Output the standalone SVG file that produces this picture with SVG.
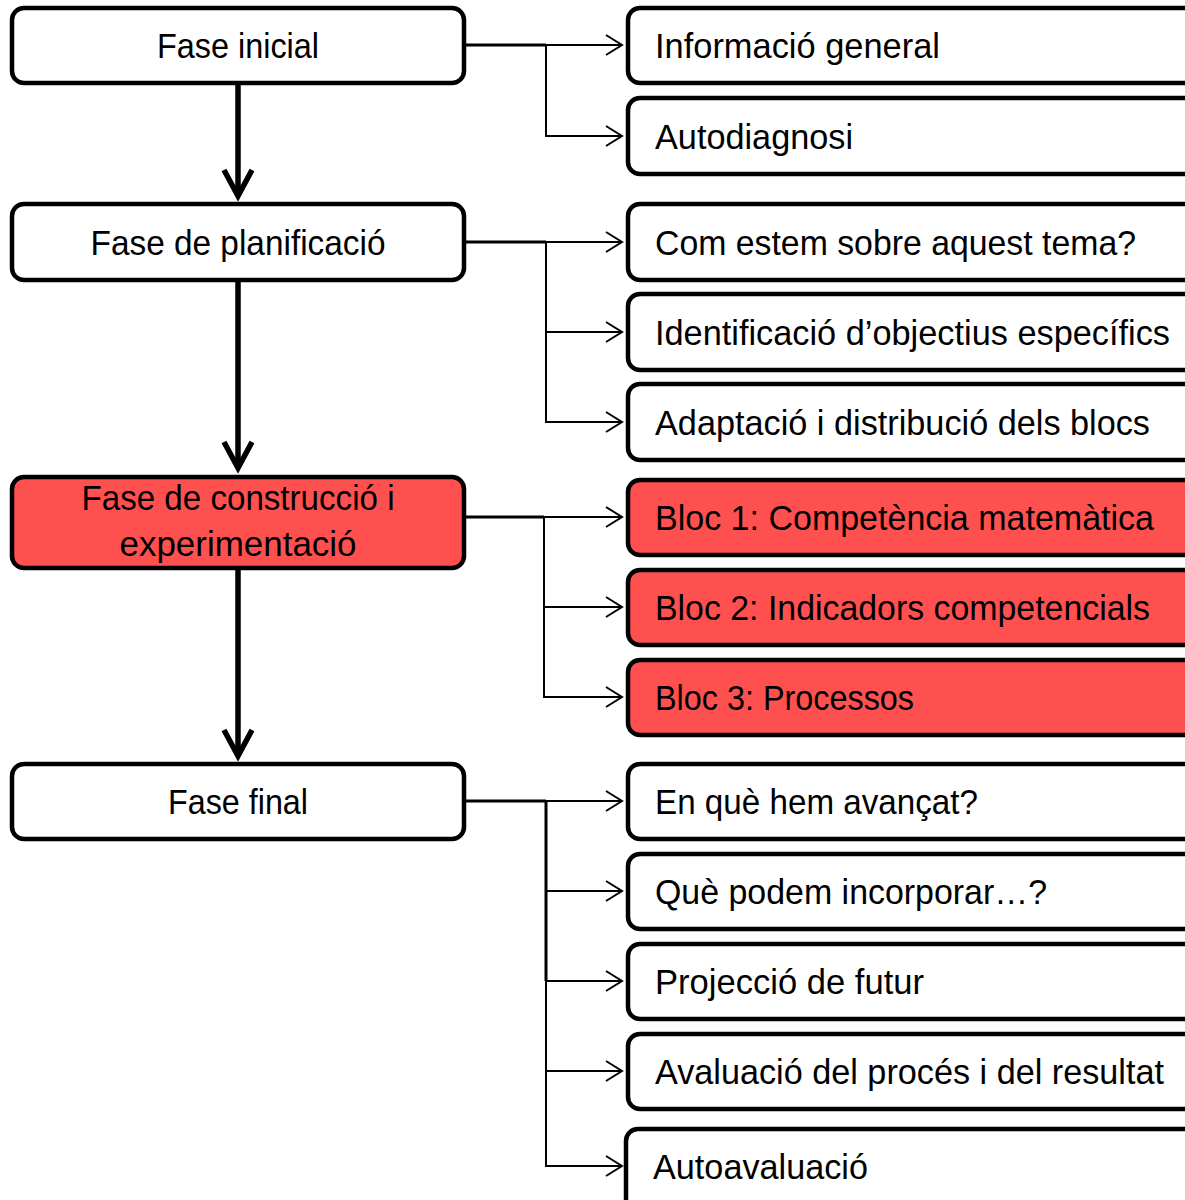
<svg xmlns="http://www.w3.org/2000/svg" width="1185" height="1200" viewBox="0 0 1185 1200">
<defs>
<style>
.box{fill:#fff;stroke:#000;stroke-width:4.5}
.red{fill:#FF5050;stroke:#000;stroke-width:4.5}
.t{font-family:"Liberation Sans",Arial,sans-serif;font-size:35px;fill:#000}
.c{text-anchor:middle}
.ln{fill:none;stroke:#000;stroke-width:2}
.lb{fill:none;stroke:#000;stroke-width:3}
.ah{fill:none;stroke:#000;stroke-width:2}
.v{fill:none;stroke:#000;stroke-width:5.5}
.vh{fill:none;stroke:#000;stroke-width:5.5;stroke-linejoin:miter}
</style>
</defs>
<rect width="1185" height="1200" fill="#fff"/>
<g id="connectors">
<path class="v" d="M238 84V192"/><path class="vh" d="M224 170L238 196L252 170"/>
<path class="v" d="M238 281V464"/><path class="vh" d="M224 442L238 468L252 442"/>
<path class="v" d="M238 569V752"/><path class="vh" d="M224 730L238 756L252 730"/>
<path class="lb" d="M464 45H546"/><path class="ln" d="M546 45H622M546 45V136H622"/>
<path class="lb" d="M464 242H546"/><path class="ln" d="M546 242H622M546 242V422H622M546 332H622"/>
<path class="lb" d="M464 517H544"/><path class="ln" d="M544 517H622M544 517V697H622M544 607H622"/>
<path class="lb" d="M464 801H546M546 801V981"/><path class="ln" d="M546 801H622M546 981V1166H622M546 891H622M546 981H622M546 1071H622"/>
<path class="ah" d="M606 35L622 45L606 55M606 126L622 136L606 146M606 232L622 242L606 252M606 322L622 332L606 342M606 412L622 422L606 432M606 507L622 517L606 527M606 597L622 607L606 617M606 687L622 697L606 707M606 791L622 801L606 811M606 881L622 891L606 901M606 971L622 981L606 991M606 1061L622 1071L606 1081M606 1156L622 1166L606 1176"/>
</g>
<g id="n-inicial"><rect class="box" x="12" y="8" width="452" height="75" rx="12"/><text class="t c" x="238" y="58" textLength="162" lengthAdjust="spacingAndGlyphs">Fase inicial</text></g>
<g id="n-planificacio"><rect class="box" x="12" y="204" width="452" height="76" rx="12"/><text class="t c" x="238" y="255" textLength="295" lengthAdjust="spacingAndGlyphs">Fase de planificació</text></g>
<g id="n-construccio"><rect class="red" x="12" y="477" width="452" height="91" rx="12"/><text class="t c" x="238" y="510" textLength="313" lengthAdjust="spacingAndGlyphs">Fase de construcció i</text><text class="t c" x="238" y="556" textLength="237" lengthAdjust="spacingAndGlyphs">experimentació</text></g>
<g id="n-final"><rect class="box" x="12" y="764" width="452" height="75" rx="12"/><text class="t c" x="238" y="814" textLength="140" lengthAdjust="spacingAndGlyphs">Fase final</text></g>
<g id="r1"><rect class="box" x="628" y="8" width="600" height="75" rx="12"/><text class="t" x="655" y="58" textLength="285" lengthAdjust="spacingAndGlyphs">Informació general</text></g>
<g id="r2"><rect class="box" x="628" y="98" width="600" height="76" rx="12"/><text class="t" x="655" y="149" textLength="198" lengthAdjust="spacingAndGlyphs">Autodiagnosi</text></g>
<g id="r3"><rect class="box" x="628" y="204" width="600" height="76" rx="12"/><text class="t" x="655" y="255" textLength="481" lengthAdjust="spacingAndGlyphs">Com estem sobre aquest tema?</text></g>
<g id="r4"><rect class="box" x="628" y="294" width="600" height="76" rx="12"/><text class="t" x="655" y="345" textLength="515" lengthAdjust="spacingAndGlyphs">Identificació d’objectius específics</text></g>
<g id="r5"><rect class="box" x="628" y="384" width="600" height="76" rx="12"/><text class="t" x="655" y="435" textLength="495" lengthAdjust="spacingAndGlyphs">Adaptació i distribució dels blocs</text></g>
<g id="r6"><rect class="red" x="628" y="480" width="600" height="75" rx="12"/><text class="t" x="655" y="530" textLength="499" lengthAdjust="spacingAndGlyphs">Bloc 1: Competència matemàtica</text></g>
<g id="r7"><rect class="red" x="628" y="570" width="600" height="75" rx="12"/><text class="t" x="655" y="620" textLength="495" lengthAdjust="spacingAndGlyphs">Bloc 2: Indicadors competencials</text></g>
<g id="r8"><rect class="red" x="628" y="660" width="600" height="75" rx="12"/><text class="t" x="655" y="710" textLength="259" lengthAdjust="spacingAndGlyphs">Bloc 3: Processos</text></g>
<g id="r9"><rect class="box" x="628" y="764" width="600" height="75" rx="12"/><text class="t" x="655" y="814" textLength="323" lengthAdjust="spacingAndGlyphs">En què hem avançat?</text></g>
<g id="r10"><rect class="box" x="628" y="854" width="600" height="75" rx="12"/><text class="t" x="655" y="904" textLength="392" lengthAdjust="spacingAndGlyphs">Què podem incorporar…?</text></g>
<g id="r11"><rect class="box" x="628" y="944" width="600" height="75" rx="12"/><text class="t" x="655" y="994" textLength="269" lengthAdjust="spacingAndGlyphs">Projecció de futur</text></g>
<g id="r12"><rect class="box" x="628" y="1034" width="600" height="75" rx="12"/><text class="t" x="655" y="1084" textLength="509" lengthAdjust="spacingAndGlyphs">Avaluació del procés i del resultat</text></g>
<g id="r13"><rect class="box" x="626" y="1129" width="600" height="100" rx="12"/><text class="t" x="653" y="1179" textLength="215" lengthAdjust="spacingAndGlyphs">Autoavaluació</text></g>
</svg>
